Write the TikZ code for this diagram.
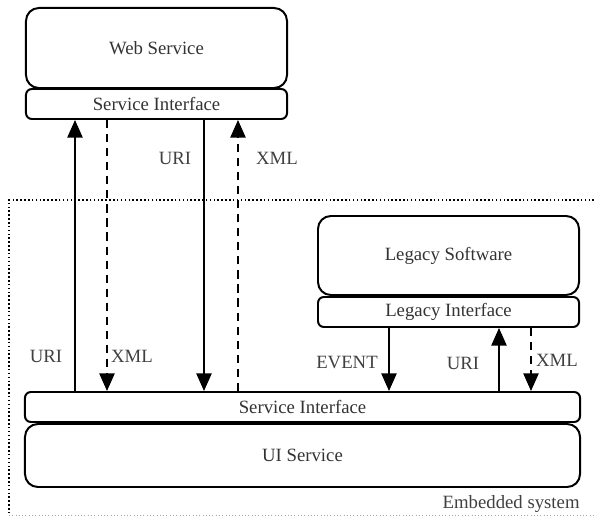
\documentclass[tikz,border=0pt]{standalone}
\usepackage{fontspec}
\setmainfont{Liberation Serif}
\usetikzlibrary{arrows.meta,calc}

\begin{document}
\begin{tikzpicture}[x=0.03cm,y=-0.03cm,
  font=\fontsize{16}{18}\selectfont,
  box/.style={draw,line width=1.7pt,rounded corners=11pt,inner sep=0pt,minimum width=7.83cm,minimum height=2.4cm,text=black!80},
  iface/.style={draw,line width=1.7pt,rounded corners=5pt,inner sep=0pt,minimum width=7.83cm,minimum height=0.9cm,text=black!80},
  msg/.style={line width=1.3pt,-{Triangle[length=15pt,width=13pt]}},
  reply/.style={msg,dash pattern=on 7pt off 5pt},
  lbl/.style={text=black!75,inner sep=1pt}]
\useasboundingbox (0,0) rectangle (594,517);

% embedded system frame
\draw[dotted,line width=1.3pt] (594,200) -| (9,515);
\draw[dotted,line width=0.8pt,black!35] (9,515) -- (594,515);
\node[lbl,anchor=south east] (emb) at (581,514) {Embedded system};

% components
\node[box] (web) at (156.5,48) {Web Service};
\node[iface] (webif) at (156.5,104) {Service Interface};
\node[box,minimum height=2.37cm] (legacy) at (448.5,255.5) {Legacy Software};
\node[iface] (legif) at (448.5,312) {Legacy Interface};
\node[iface,minimum width=16.65cm] (uiif) at (302.5,407) {Service Interface};
\node[box,minimum width=16.65cm,minimum height=1.89cm] (ui) at (302.5,455.5) {UI Service};

% message columns
\coordinate (c1) at (75,0);
\coordinate (c2) at (107,0);
\coordinate (c3) at (204,0);
\coordinate (c4) at (238,0);
\coordinate (c5) at (389,0);
\coordinate (c6) at (499,0);
\coordinate (c7) at (531,0);

\draw[msg] (uiif.north -| c1) -- (webif.south -| c1);
\draw[reply] (webif.south -| c2) -- (uiif.north -| c2);
\draw[msg] (webif.south -| c3) -- (uiif.north -| c3);
\draw[reply] (uiif.north -| c4) -- (webif.south -| c4);
\draw[msg] (legif.south -| c5) -- (uiif.north -| c5);
\draw[msg] (uiif.north -| c6) -- (legif.south -| c6);
\draw[reply] (legif.south -| c7) -- (uiif.north -| c7);

% labels
\node[lbl] (uri1) at (46,356) {URI};
\node[lbl] (xml1) at (132,356) {XML};
\node[lbl] (uri2) at (175,158) {URI};
\node[lbl] (xml2) at (277,158) {XML};
\node[lbl] (event) at (347,363) {EVENT};
\node[lbl] (uri3) at (463,363) {URI};
\node[lbl] (xml3) at (557,360) {XML};
\end{tikzpicture}
\end{document}
